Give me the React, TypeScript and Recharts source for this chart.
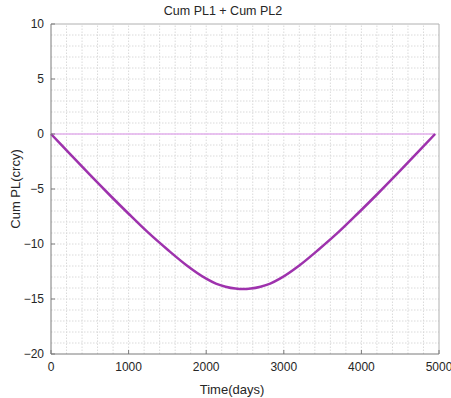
import { LineChart, Line, XAxis, YAxis, ReferenceLine, Label } from "recharts";

const timeDays = [0, 250, 500, 750, 1000, 1250, 1500, 1750, 2000, 2125, 2250, 2375, 2475, 2575, 2700, 2825, 2950, 3200, 3450, 3700, 3950, 4200, 4450, 4700, 4950];
const cumPl = [0, -1.85, -3.7, -5.5, -7.25, -8.95, -10.5, -11.95, -13.15, -13.6, -13.88, -14.05, -14.1, -14.05, -13.88, -13.6, -13.15, -11.95, -10.5, -8.95, -7.25, -5.5, -3.7, -1.85, 0];
const baseline = timeDays.map(() => 0);

const xTicks = [0, 1000, 2000, 3000, 4000, 5000];
const yTicks = [-20, -15, -10, -5, 0, 5, 10];
const xGrid = Array.from({ length: 24 }, (_, i) => (i + 1) * 200);
const yGrid = Array.from({ length: 29 }, (_, i) => i - 19);

const data = timeDays.map((t, i) => ({ t, pl: cumPl[i], zero: baseline[i] }));

const font = "'Liberation Sans', Arial, sans-serif";
const fmt = (v: number) => (v < 0 ? `\u2212${-v}` : `${v}`);

export default function App() {
  return (
    <div style={{ position: "absolute", left: 0, top: 0, width: 451, height: 398, background: "#fff", fontFamily: font }}>
      <div style={{ position: "absolute", left: 0, width: 446, top: 4, textAlign: "center", fontSize: 12.5, color: "#262626" }}>
        Cum PL1 + Cum PL2
      </div>
      <LineChart width={451} height={398} data={data} margin={{ top: 24, right: 12, left: 0, bottom: 0 }}>
        {xGrid.map((v) => (
          <ReferenceLine key={"gx" + v} x={v} stroke="#dadada" strokeDasharray="1.5 1.5" />
        ))}
        {yGrid.map((v) => (
          <ReferenceLine key={"gy" + v} y={v} stroke="#dadada" strokeDasharray="1.5 1.5" />
        ))}
        <ReferenceLine y={10} stroke="#b0b0b0" />
        <ReferenceLine x={5000} stroke="#b0b0b0" />
        <XAxis
          dataKey="t"
          type="number"
          domain={[0, 5000]}
          ticks={xTicks}
          height={44}
          stroke="#7a7a7a"
          tickSize={-4}
          tickMargin={12}
          tick={{ fill: "#262626", fontSize: 12, fontFamily: font }}
          interval={0}
        >
          <Label value="Time(days)" position="insideBottom" offset={4} dx={-13} style={{ fill: "#262626", fontSize: 13, fontFamily: font }} />
        </XAxis>
        <YAxis
          type="number"
          domain={[-20, 10]}
          ticks={yTicks}
          width={51}
          stroke="#7a7a7a"
          tickSize={-4}
          tickMargin={11}
          tickFormatter={fmt}
          tick={{ fill: "#262626", fontSize: 12, fontFamily: font }}
          interval={0}
        >
          <Label value="Cum PL(crcy)" angle={-90} position="insideLeft" offset={15} style={{ fill: "#262626", fontSize: 13, fontFamily: font, textAnchor: "middle" }} />
        </YAxis>
        <Line dataKey="zero" stroke="#e3b0ec" strokeWidth={1.5} dot={false} isAnimationActive={false} />
        <Line dataKey="pl" type="monotone" stroke="#9e32ad" strokeWidth={2.5} dot={false} isAnimationActive={false} />
      </LineChart>
    </div>
  );
}
